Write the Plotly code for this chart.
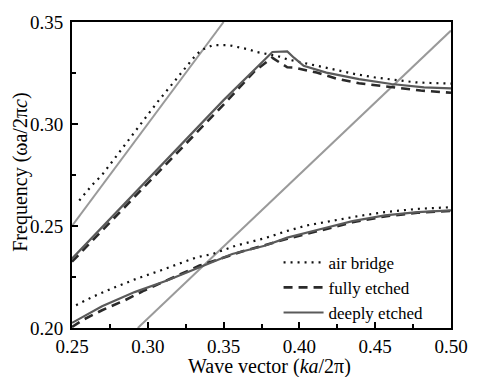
import plotly.graph_objects as go

# ---- data (wave vector k, frequency f) ----
air_upper_k = [0.2548, 0.2634, 0.2698, 0.2806, 0.2934, 0.3063, 0.317, 0.332, 0.3364, 0.343, 0.353,
               0.3664, 0.3717, 0.3857, 0.392, 0.3964, 0.4114, 0.4243, 0.4372, 0.45, 0.4629, 0.4768, 0.4865, 0.50]
air_upper_f = [0.2625, 0.2702, 0.275, 0.2856, 0.2977, 0.3107, 0.3204, 0.3341, 0.3366, 0.3387, 0.3387,
               0.3366, 0.3353, 0.3333, 0.3317, 0.331, 0.3285, 0.3264, 0.3244, 0.3228, 0.3215, 0.3204, 0.3201, 0.3198]
air_lower_k = [0.2527, 0.2634, 0.2784, 0.2924, 0.3084, 0.3203, 0.332, 0.3428, 0.3578, 0.3771, 0.392,
               0.405, 0.4243, 0.4393, 0.4564, 0.4779, 0.50]
air_lower_f = [0.2112, 0.2152, 0.22, 0.2241, 0.2282, 0.2314, 0.2346, 0.2363, 0.2403, 0.244, 0.2476,
               0.2503, 0.2529, 0.2549, 0.2568, 0.2584, 0.2592]

full_upper_k = [0.25, 0.30, 0.35, 0.3706, 0.382, 0.392, 0.3964, 0.4114, 0.4243, 0.4393, 0.452, 0.4672, 0.48, 0.50]
full_upper_f = [0.2325, 0.2712, 0.3095, 0.326, 0.3325, 0.3278, 0.3277, 0.3252, 0.3223, 0.32, 0.3188, 0.3175, 0.3164, 0.3153]
full_lower_k = [0.25, 0.257, 0.2698, 0.2849, 0.2977, 0.3213, 0.3342, 0.3471, 0.3621, 0.392, 0.4136, 0.435,
                0.4564, 0.4779, 0.50]
full_lower_f = [0.2005, 0.2039, 0.2087, 0.2136, 0.2184, 0.2265, 0.2306, 0.2338, 0.2375, 0.2437, 0.2478, 0.2518,
                0.2547, 0.2565, 0.2574]

deep_upper_k = [0.25, 0.30, 0.35, 0.3822, 0.392, 0.3964, 0.4028, 0.4178, 0.4393, 0.4607, 0.4822, 0.50]
deep_upper_f = [0.234, 0.2729, 0.3117, 0.3353, 0.3356, 0.3325, 0.3285, 0.3252, 0.322, 0.3196, 0.318, 0.3175]
deep_lower_k = [0.25, 0.2698, 0.2913, 0.3127, 0.3342, 0.3557, 0.3771, 0.392, 0.4136, 0.435, 0.4564, 0.4779, 0.50]
deep_lower_f = [0.2025, 0.2107, 0.2176, 0.2233, 0.2298, 0.2363, 0.2403, 0.2443, 0.2484, 0.2524, 0.2552, 0.2568, 0.2577]

light1_k = [0.25, 0.35]
light1_f = [0.25, 0.35]
light2_k = [0.2934, 0.50]
light2_f = [0.20, 0.3458]

x_ticks = [0.25, 0.30, 0.35, 0.40, 0.45, 0.50]
y_ticks = [0.20, 0.25, 0.30, 0.35]

FONT = "Liberation Serif, DejaVu Serif, serif"

fig = go.Figure()

# light lines
for kk, ff in [(light1_k, light1_f), (light2_k, light2_f)]:
    fig.add_trace(go.Scatter(x=kk, y=ff, mode="lines", showlegend=False,
                             line=dict(color="#9a9a9a", width=2)))

air_style = dict(color="#111111", width=2.2, dash="2px,5px")
full_style = dict(color="#2a2a2a", width=2.6, dash="9px,6px")
deep_style = dict(color="#5a5a5a", width=2.2)

fig.add_trace(go.Scatter(x=air_upper_k, y=air_upper_f, mode="lines", name="air bridge",
                         legendgroup="air", line=air_style))
fig.add_trace(go.Scatter(x=air_lower_k, y=air_lower_f, mode="lines", name="air bridge",
                         legendgroup="air", showlegend=False, line=air_style))
fig.add_trace(go.Scatter(x=full_upper_k, y=full_upper_f, mode="lines", name="fully etched",
                         legendgroup="full", line=full_style))
fig.add_trace(go.Scatter(x=full_lower_k, y=full_lower_f, mode="lines", name="fully etched",
                         legendgroup="full", showlegend=False, line=full_style))
fig.add_trace(go.Scatter(x=deep_upper_k, y=deep_upper_f, mode="lines", name="deeply etched",
                         legendgroup="deep", line=deep_style))
fig.add_trace(go.Scatter(x=deep_lower_k, y=deep_lower_f, mode="lines", name="deeply etched",
                         legendgroup="deep", showlegend=False, line=deep_style))

axis_common = dict(showgrid=False, zeroline=False, showline=True, linecolor="black", linewidth=2,
                   mirror=True, ticks="inside", ticklen=6, tickwidth=2, tickcolor="black",
                   tickformat=".2f", tickfont=dict(family=FONT, size=19, color="black"))

fig.update_xaxes(range=[0.25, 0.50], tickvals=x_ticks,
                 minor=dict(ticks="inside", ticklen=4, tickwidth=2, dtick=0.025, tick0=0.25, tickcolor="black"),
                 **axis_common)
fig.update_yaxes(range=[0.20, 0.35], tickvals=y_ticks,
                 minor=dict(ticks="inside", ticklen=4, tickwidth=2, dtick=0.025, tick0=0.20, tickcolor="black"),
                 ticklabelstandoff=3,
                 **axis_common)

fig.add_annotation(text="Frequency (ωa/2π<i>c</i>)", xref="paper", yref="paper",
                   x=-0.135, y=0.51, textangle=-90, showarrow=False,
                   xanchor="center", yanchor="middle",
                   font=dict(family=FONT, size=20, color="black"))
fig.add_annotation(text="Wave vector (<i>ka</i>/2π)", xref="paper", yref="paper",
                   x=0.52, y=-0.125, showarrow=False, xanchor="center", yanchor="middle",
                   font=dict(family=FONT, size=20, color="black"))

fig.update_layout(
    width=480, height=377,
    margin=dict(l=72, r=19, t=19, b=49),
    paper_bgcolor="white", plot_bgcolor="white",
    showlegend=True,
    legend=dict(x=0.545, y=0.272, xanchor="left", yanchor="top",
                bgcolor="rgba(0,0,0,0)", borderwidth=0,
                font=dict(family=FONT, size=17, color="black"),
                tracegroupgap=0, itemwidth=40),
)

fig.write_html("out.html")
